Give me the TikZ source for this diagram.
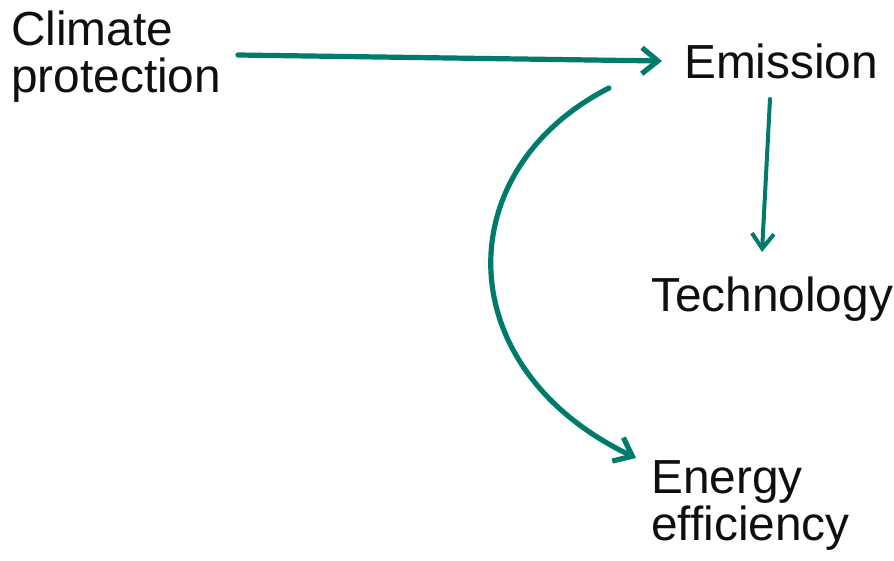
\documentclass[tikz,border=0pt]{standalone}
\usepackage{fontspec}
\setmainfont{Liberation Sans}
\usetikzlibrary{arrows.meta}
\definecolor{teal}{RGB}{0,122,106}
\definecolor{txt}{RGB}{15,15,15}
\begin{document}
\begin{tikzpicture}[x=1pt,y=-1pt,
  lbl/.style={anchor=base west,inner sep=0pt,text=txt,font=\fontsize{47.8}{47}\selectfont,align=left},
  conn/.style={draw=teal,line width=5.2pt,line cap=round,-{Straight Barb[length=16pt,width=26pt,line width=5.2pt]}},
  thin/.style={draw=teal,line width=4pt,line cap=round,-{Straight Barb[length=15pt,width=22pt,line width=4pt]}}]
\useasboundingbox (0,0) rectangle (894,560);
\node[lbl] (climate) at (11,92) {Climate\\protection};
\node[lbl] (emission) at (684,78) {Emission};
\node[lbl] (tech) at (651,311) {Technology};
\node[lbl] (energy) at (651,540) {Energy\\efficiency};
\coordinate (a1) at (238,55);
\coordinate (a2) at (662,61);
\coordinate (b1) at (770,99);
\coordinate (b2) at (762,252);
\coordinate (c1) at (609,88);
\coordinate (c2) at (636,458);
\draw[conn] (a1) -- (a2);
\draw[thin] (b1) -- (b2);
\draw[conn] (c1) .. controls (448,170) and (448,368) .. (c2);
\end{tikzpicture}
\end{document}
